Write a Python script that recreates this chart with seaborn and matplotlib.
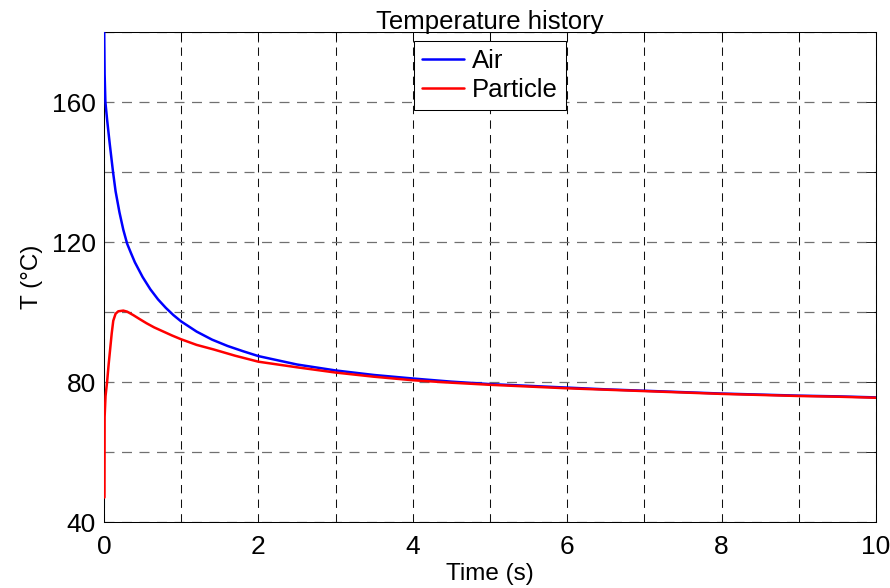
import numpy as np
import pandas as pd
import matplotlib
matplotlib.use("Agg")
import matplotlib.pyplot as plt
import seaborn as sns

# Data
air_t = [0.0, 0.008, 0.018, 0.04, 0.073, 0.1, 0.117, 0.15, 0.2, 0.25, 0.3, 0.35, 0.4, 0.5,
         0.6, 0.7, 0.8, 0.9, 1.0, 1.2, 1.4, 1.6, 1.8, 2.0, 2.5, 3.0, 3.5, 4.0, 4.5,
         5.0, 5.5, 6.0, 6.5, 7.0, 7.5, 8.0, 8.5, 9.0, 9.5, 10.0]
air_T = [185, 168, 160, 155, 148.3, 143.2, 140, 134.5, 128.5, 123.5, 119.5, 116.8, 114.2, 110,
         106.5, 103.6, 101.2, 99.1, 97.3, 94.4, 92.1, 90.3, 88.8, 87.4, 85.0, 83.3, 82.0,
         81.0, 80.1, 79.4, 78.9, 78.4, 77.9, 77.5, 77.1, 76.7, 76.4, 76.1, 75.9, 75.6]

part_t = [0.006, 0.008, 0.02, 0.04, 0.06, 0.078, 0.1, 0.12, 0.15, 0.185, 0.25, 0.3, 0.38,
          0.46, 0.55, 0.65, 0.77, 0.88, 1.0, 1.2, 1.42, 1.7, 2.0, 2.5, 3.0, 3.5, 4.0,
          4.5, 5.0, 5.5, 6.0, 6.5, 7.0, 7.5, 8.0, 8.5, 9.0, 9.5, 10.0]
part_T = [47, 70, 76, 80, 85, 89, 93.9, 97.5, 99.5, 100.2, 100.4, 100.1, 99.1,
          98.0, 96.8, 95.6, 94.4, 93.3, 92.2, 90.6, 89.3, 87.5, 85.8, 84.2, 82.7, 81.5,
          80.5, 79.8, 79.2, 78.7, 78.2, 77.8, 77.4, 77.0, 76.6, 76.3, 76.0, 75.8, 75.5]

series_names = ["Air", "Particle"]
series_colors = ["#0000ff", "#ff0000"]

x_ticks = list(range(0, 11))
x_ticklabels = ["0", "", "2", "", "4", "", "6", "", "8", "", "10"]
y_ticks = [40, 60, 80, 100, 120, 140, 160, 180]
y_ticklabels = ["40", "", "80", "", "120", "", "160", ""]

df = pd.concat([
    pd.DataFrame({"t": air_t, "T": air_T, "series": series_names[0]}),
    pd.DataFrame({"t": part_t, "T": part_T, "series": series_names[1]}),
], ignore_index=True)

sns.set_style("white")
plt.rcParams["font.family"] = ["Liberation Sans", "DejaVu Sans"]
plt.rcParams["text.color"] = "black"
plt.rcParams["axes.labelcolor"] = "black"

fig = plt.figure(figsize=(8.9, 5.88), dpi=100)
ax = fig.add_axes([104 / 890, 1 - 522 / 588, 772 / 890, 490 / 588])

sns.lineplot(data=df, x="t", y="T", hue="series", palette=series_colors,
             hue_order=series_names, linewidth=1.8, ax=ax, sort=False, zorder=3)

ax.set_xlim(0, 10)
ax.set_ylim(40, 180)
ax.set_xticks(x_ticks)
ax.set_xticklabels(x_ticklabels)
ax.set_yticks(y_ticks)
ax.set_yticklabels(y_ticklabels)
ax.tick_params(direction="in", length=7, width=0.6, top=True, right=True,
               labelsize=19, colors="black")
ax.tick_params(axis="x", pad=9)
ax.tick_params(axis="y", pad=6)
ax.xaxis.grid(True, color="#111111", linestyle=(0, (8, 6)), linewidth=0.75)
ax.yaxis.grid(True, color="#707070", linestyle=(0, (8, 6)), linewidth=0.9)
for s in ax.spines.values():
    s.set_visible(True)
    s.set_color("black")
    s.set_linewidth(0.75)

ax.set_title("Temperature history", fontsize=18.5, pad=2, color="black")
ax.set_xlabel("Time (s)", fontsize=17.5, labelpad=3, color="black")
ax.set_ylabel("T (°C)", fontsize=17.5, labelpad=6, color="black")

leg = ax.legend(loc="upper center", fontsize=18.5, frameon=True, fancybox=False,
                edgecolor="black", framealpha=1, handlelength=1.65, handletextpad=0.3,
                borderpad=0.3, labelspacing=0.2, borderaxespad=0.35,
                bbox_to_anchor=(0.5, 1.0))
leg.get_frame().set_linewidth(0.75)
for txt in leg.get_texts():
    txt.set_color("black")

fig.savefig("out.png", dpi=100)
